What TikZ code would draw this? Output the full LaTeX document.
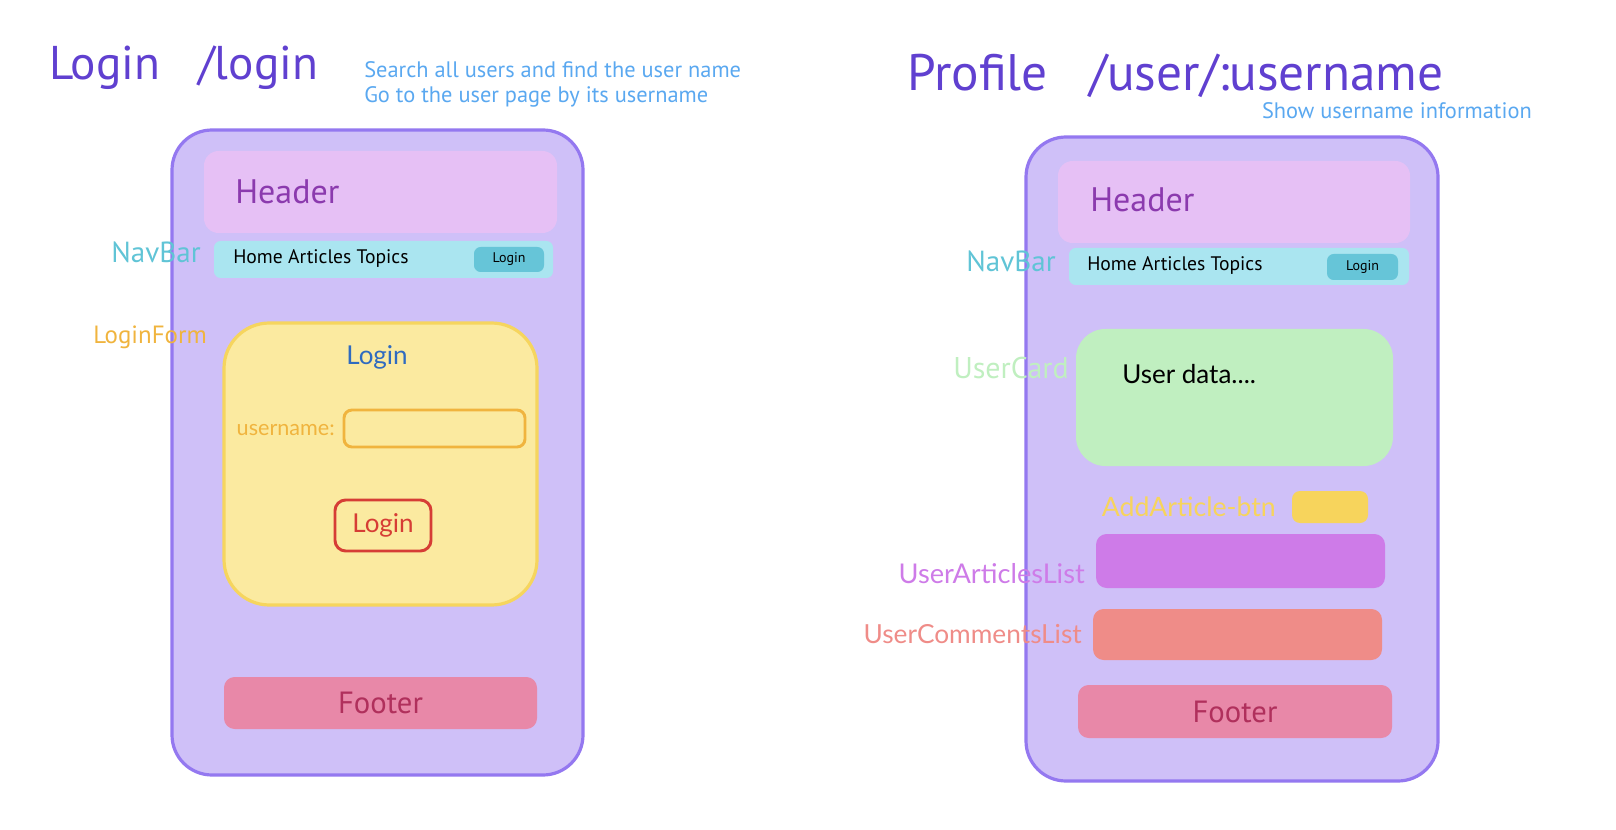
\documentclass[tikz,border=0pt]{standalone}
\usepackage{fontspec}
\setmainfont{Lato}
\newfontfamily\handfont{PT Sans}
\newfontfamily\uifont{Lato}

\definecolor{phonefill}{HTML}{CFC0F8}
\definecolor{phoneline}{HTML}{9478F0}
\definecolor{titlecol}{HTML}{6040D0}
\definecolor{notecol}{HTML}{5AA8F0}
\definecolor{hdrfill}{HTML}{E6C0F5}
\definecolor{hdrtext}{HTML}{8B3AAE}
\definecolor{navfill}{HTML}{AAE5F0}
\definecolor{navbtn}{HTML}{66C5D8}
\definecolor{navlabel}{HTML}{60C4D6}
\definecolor{formfill}{HTML}{FBEAA0}
\definecolor{formline}{HTML}{F6D55E}
\definecolor{formlabel}{HTML}{F0B43E}
\definecolor{formtitle}{HTML}{2F6BC0}
\definecolor{btnred}{HTML}{D63D35}
\definecolor{footfill}{HTML}{E888A8}
\definecolor{foottext}{HTML}{B0305C}
\definecolor{cardfill}{HTML}{C0EFC0}
\definecolor{addyellow}{HTML}{F7D45C}
\definecolor{artfill}{HTML}{CE7BE8}
\definecolor{comfill}{HTML}{EF8C88}

% block from its corner coordinates (px): name, x1, y1, x2, y2, style
\newcommand{\blk}[6]{%
  \node[#6, minimum width={(#4-#2)*0.75pt}, minimum height={(#5-#3)*0.75pt}]
    (#1) at ({(#2+#4)/2},{(#3+#5)/2}) {};}
% hand-lettered font at a given size (pt)
\newcommand{\hand}[1]{\handfont\fontsize{#1}{#1}\selectfont}
\newcommand{\ui}[1]{\uifont\fontsize{#1}{#1}\selectfont}

\begin{document}
\begin{tikzpicture}[x=0.75pt, y=-0.75pt,
  base/.style={rectangle, inner sep=0pt, outer sep=0pt},
  phone/.style={base, draw=phoneline, fill=phonefill, line width=2.4pt, rounded corners=30pt},
  hdrbox/.style={base, fill=hdrfill, rounded corners=11pt},
  navbox/.style={base, fill=navfill, rounded corners=5pt},
  navbtnbox/.style={base, fill=navbtn, rounded corners=5pt},
  formbox/.style={base, fill=formfill, draw=formline, line width=2.4pt, rounded corners=34pt},
  inputbox/.style={base, draw=formlabel, line width=2.2pt, rounded corners=6pt},
  redbtn/.style={base, draw=btnred, line width=2.2pt, rounded corners=8pt},
  footbox/.style={base, fill=footfill, rounded corners=8pt},
  cardbox/.style={base, fill=cardfill, rounded corners=22pt},
  addbox/.style={base, fill=addyellow, rounded corners=6pt},
  artbox/.style={base, fill=artfill, rounded corners=8pt},
  combox/.style={base, fill=comfill, rounded corners=8pt},
  txt/.style={inner sep=0pt},
  title/.style={txt, text=titlecol},
  note/.style={txt, text=notecol, font={\hand{16.8}}},
  hdrlabel/.style={txt, text=hdrtext, font={\hand{25.5}}},
  navtext/.style={txt, text=black, font={\hand{14.7}}},
  navbtntext/.style={txt, text=black, font={\hand{10.5}}},
  foottxt/.style={txt, text=foottext, font={\hand{23}}}
]
\useasboundingbox (0,0) rectangle (1616,830);

% ---------- Login page ----------
\node[title, font={\hand{35.5}}, anchor=west] (ltitle) at (49,68) {Login\ \ \ /login};
\node[note, anchor=north west, align=left] (lnote) at (364,61)
  {Search all users and find the user name\\[2pt]Go to the user page by its username};

\blk{lphone}{172}{130}{583}{775}{phone}
\blk{lhdr}{204}{151}{557}{233}{hdrbox}
\node[hdrlabel, anchor=west] (lhdrtxt) at (235,192) {Header};

\blk{lnav}{214}{241}{553}{278}{navbox}
\node[navtext, anchor=west] (lnavtxt) at (233,258) {Home Articles Topics};
\blk{lnavbtn}{474}{247}{544}{272}{navbtnbox}
\node[navbtntext] (lnavbtntxt) at (lnavbtn) {Login};

\blk{lform}{224}{323}{537}{605}{formbox}
\node[txt, text=formtitle, font={\ui{19.5}}] (lformtitle) at (377,357) {Login};
\node[txt, text=formlabel, font={\ui{16.2}}, anchor=east] (luser) at (335,430) {username:};
\blk{linput}{344}{410}{525}{447}{inputbox}
\blk{lbtn}{335}{500}{431}{551}{redbtn}
\node[txt, text=btnred, font={\ui{19.5}}] (lbtntxt) at (lbtn) {Login};

\blk{lfoot}{224}{677}{537}{729}{footbox}
\node[foottxt] (lfoottxt) at (lfoot) {Footer};

\node[txt, text=navlabel, font={\hand{21.8}}] (lnavlabel) at (156,252) {NavBar};
\node[txt, text=formlabel, font={\hand{18.7}}] (lformlabel) at (150,337) {LoginForm};

% ---------- Profile page ----------
\node[title, font={\hand{38.5}}, anchor=west] (rtitle) at (907,76) {Profile\ \ \ /user/:username};
\node[note, anchor=east] (rnote) at (1532,111) {Show username information};

\blk{rphone}{1026}{137}{1438}{781}{phone}
\blk{rhdr}{1058}{161}{1410}{243}{hdrbox}
\node[hdrlabel, anchor=west] (rhdrtxt) at (1090,200) {Header};

\blk{rnav}{1069}{248}{1409}{285}{navbox}
\node[navtext, anchor=west] (rnavtxt) at (1087,265) {Home Articles Topics};
\blk{rnavbtn}{1327}{254}{1398}{280}{navbtnbox}
\node[navbtntext] (rnavbtntxt) at (rnavbtn) {Login};

\blk{rcard}{1076}{329}{1393}{466}{cardbox}
\node[txt, text=black, font={\ui{19.5}}, anchor=west] (rcardtxt) at (1122,374) {User data....};

\node[txt, text=addyellow, font={\ui{20}}, anchor=east] (raddlabel) at (1276,507) {AddArticle-btn};
\blk{radd}{1292}{491}{1368}{523}{addbox}

\blk{rart}{1096}{534}{1385}{588}{artbox}
\node[txt, text=artfill, font={\ui{20.4}}, anchor=east] (rartlabel) at (1085,574) {UserArticlesList};

\blk{rcom}{1093}{609}{1382}{660}{combox}
\node[txt, text=comfill, font={\ui{19.7}}, anchor=east] (rcomlabel) at (1082,634) {UserCommentsList};

\blk{rfoot}{1078}{685}{1392}{738}{footbox}
\node[foottxt] (rfoottxt) at (rfoot) {Footer};

\node[txt, text=navlabel, font={\hand{21.8}}] (rnavlabel) at (1011,261) {NavBar};
\node[txt, text=cardfill, font={\hand{22.5}}] (rcardlabel) at (1011,368) {UserCard};
\end{tikzpicture}
\end{document}
